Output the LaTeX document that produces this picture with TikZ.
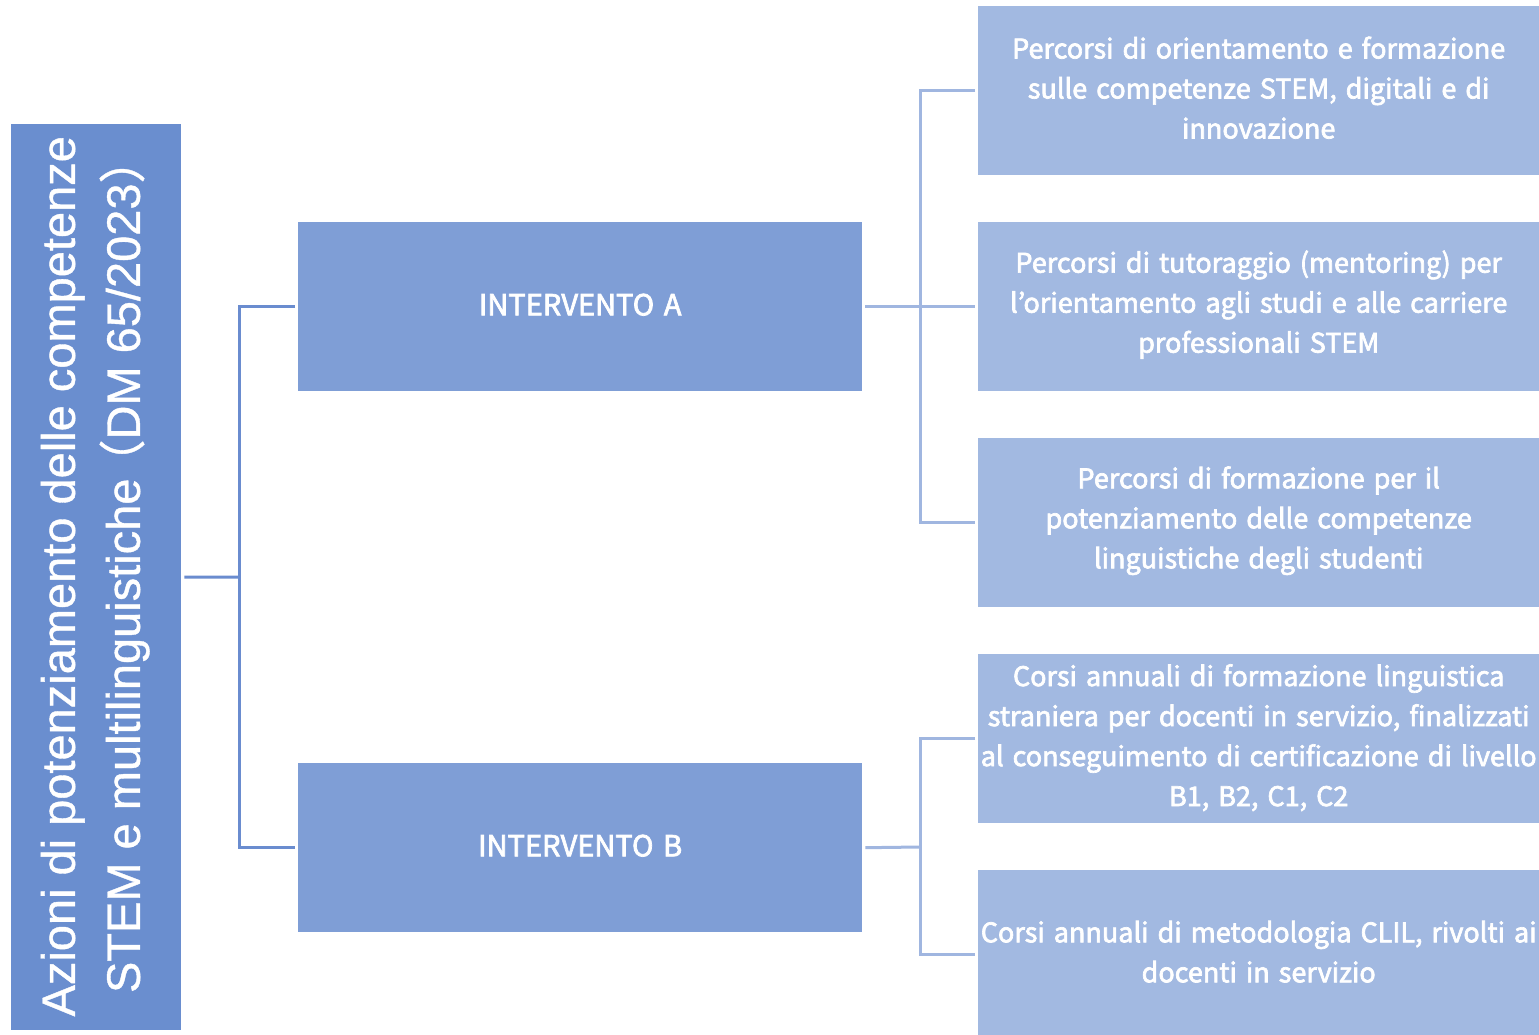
\documentclass[tikz,border=0pt]{standalone}
\usepackage{fontspec}
\setmainfont{Liberation Sans}
\newfontfamily\leftfont[FakeBold=0.8]{Liberation Sans}
\newfontfamily\jpfont[FakeBold=2.5]{Noto Sans CJK JP}
\newfontfamily\jpplain[FakeBold=0.8]{Noto Sans CJK JP}
\definecolor{cL}{HTML}{6A8ECF}
\definecolor{cM}{HTML}{7F9ED6}
\definecolor{cR}{HTML}{A2B9E1}
\definecolor{lnL}{HTML}{6A8CCF}
\definecolor{lnR}{HTML}{A0B6E0}
\begin{document}
\begin{tikzpicture}[x=1pt,y=-1pt]
\useasboundingbox[fill=white] (0,0) rectangle (1539,1035);
\tikzset{
 leftbox/.style={fill=cL, inner sep=0, minimum width=170pt, minimum height=906pt, anchor=north west},
 midbox/.style={fill=cM, inner sep=0, minimum width=564pt, minimum height=169pt, anchor=north west},
 rbox/.style={fill=cR, inner sep=0, minimum width=561pt, minimum height=169pt, anchor=north west},
 rtext/.style={inner sep=0, text width=561pt, align=center, text=white, font=\jpfont\fontsize{27}{40}\selectfont},
 linkL/.style={draw=lnL, line width=3pt},
 linkR/.style={draw=lnR, line width=3pt},
}
\node[leftbox] (L) at (11,124) {};
\node[rotate=90, text=white, align=center, font=\leftfont\fontsize{47}{65}\selectfont] (Lt) at ([xshift=-1pt,yshift=1pt]L.center) {Azioni di potenziamento delle competenze\\STEM e multilinguistiche\kern-8pt{\jpplain （}DM 65/2023{\jpplain ）}\kern-23pt};
\node[midbox] (A) at (298,222) {};
\node[rtext, font=\jpfont\fontsize{29}{40}\selectfont] (At) at ([yshift=2pt]A.center) {INTERVENTO A};
\node[midbox] (B) at (298,763) {};
\node[rtext, font=\jpfont\fontsize{29}{40}\selectfont] (Bt) at ([yshift=2pt]B.center) {INTERVENTO B};
\node[rbox] (R1) at (978,6) {};
\node[rtext] (R1t) at ([yshift=3pt]R1.center) {Percorsi di orientamento e formazione\\sulle competenze STEM, digitali e di\\innovazione};
\node[rbox] (R2) at (978,222) {};
\node[rtext] (R2t) at ([yshift=2pt]R2.center) {Percorsi di tutoraggio (mentoring) per\\l’orientamento agli studi e alle carriere\\professionali STEM};
\node[rbox] (R3) at (978,438) {};
\node[rtext] (R3t) at ([yshift=2pt]R3.center) {Percorsi di formazione per il\\potenziamento delle competenze\\linguistiche degli studenti};
\node[rbox] (R4) at (978,654) {};
\node[rtext] (R4t) at ([yshift=1pt]R4.center) {Corsi annuali di formazione linguistica\\straniera per docenti in servizio, finalizzati\\al conseguimento di certificazione di livello\\B1, B2, C1, C2};
\node[rbox, minimum height=165pt] (R5) at (978,870) {};
\node[rtext] (R5t) at ([yshift=1pt]R5.center) {Corsi annuali di metodologia CLIL, rivolti ai\\docenti in servizio};
% left connectors
\coordinate (jL) at (239,577);
\draw[linkL] ([xshift=3pt]L.east) -- (jL);
\draw[linkL] ([xshift=-3pt]A.west) -| (jL) |- ([xshift=-3pt]B.west);
% A connectors
\coordinate (jA) at (920,307);
\draw[linkR] ([xshift=3pt]A.east) -- ([xshift=-3pt]R2.west);
\draw[linkR] ([xshift=-3pt]R1.west) -| (jA) |- ([xshift=-3pt]R3.west);
% B connectors
\coordinate (jB) at (920,847);
\draw[linkR] ([xshift=3pt]B.east) -- (jB);
\draw[linkR] ([xshift=-3pt]R4.west) -| (jB) |- ([xshift=-3pt,yshift=-2pt]R5.west);
\end{tikzpicture}
\end{document}
